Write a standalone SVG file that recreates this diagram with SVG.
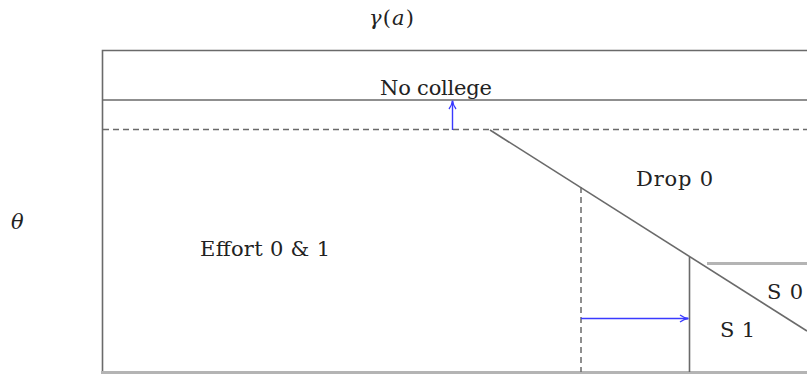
<svg xmlns="http://www.w3.org/2000/svg" width="807" height="375" viewBox="0 0 807 375">
<style>
.ln{stroke:#6a6a6a;stroke-width:1.6;fill:none}
.lt{stroke:#b4b4b4;stroke-width:3;fill:none}
.ds{stroke:#6a6a6a;stroke-width:1.5;fill:none;stroke-dasharray:6 4}
.bl{stroke:#3a3aff;stroke-width:1.4;fill:none;marker-end:url(#ah)}
.tx{font-family:'DejaVu Serif','Liberation Serif',serif;font-size:21px;fill:#222}
.it{font-style:italic}
</style>
<defs>
<marker id="ah" viewBox="0 0 10 10" refX="9" refY="5" markerWidth="10" markerHeight="10" markerUnits="userSpaceOnUse" orient="auto">
<path d="M1,1.5 Q5,4.5 9.5,5 Q5,5.5 1,8.5" fill="none" stroke="#3a3aff" stroke-width="1.3"/>
</marker>
</defs>
<g id="connectors">
<path class="ln" d="M807,50.5 H102.5 V372"/>
<path class="ln" d="M102,100 H807"/>
<path class="ds" d="M103,129.5 H807"/>
<path class="lt" d="M101,372.5 H807"/>
<path class="ln" d="M490,130 L807,331"/>
<path class="ds" d="M581,187 V372"/>
<path class="ln" d="M689.5,257 V372"/>
<path class="lt" d="M707,263.5 H807"/>
<path class="bl" d="M452.5,130 V101"/>
<path class="bl" d="M581,318.5 H688"/>
</g>
<g id="labels">
<text class="tx" x="369" y="25" textLength="45"><tspan class="it">γ</tspan>(<tspan class="it">a</tspan>)</text>
<text class="tx it" x="11" y="229">θ</text>
<g id="no-college"><text class="tx" x="380" y="95" textLength="112">No college</text></g>
<g id="drop0"><text class="tx" x="636" y="186" textLength="77">Drop 0</text></g>
<g id="effort"><text class="tx" x="200" y="256" textLength="130">Effort 0 &amp; 1</text></g>
<g id="s0"><text class="tx" x="767" y="299" textLength="36">S 0</text></g>
<g id="s1"><text class="tx" x="720" y="337" textLength="35">S 1</text></g>
</g>
</svg>
